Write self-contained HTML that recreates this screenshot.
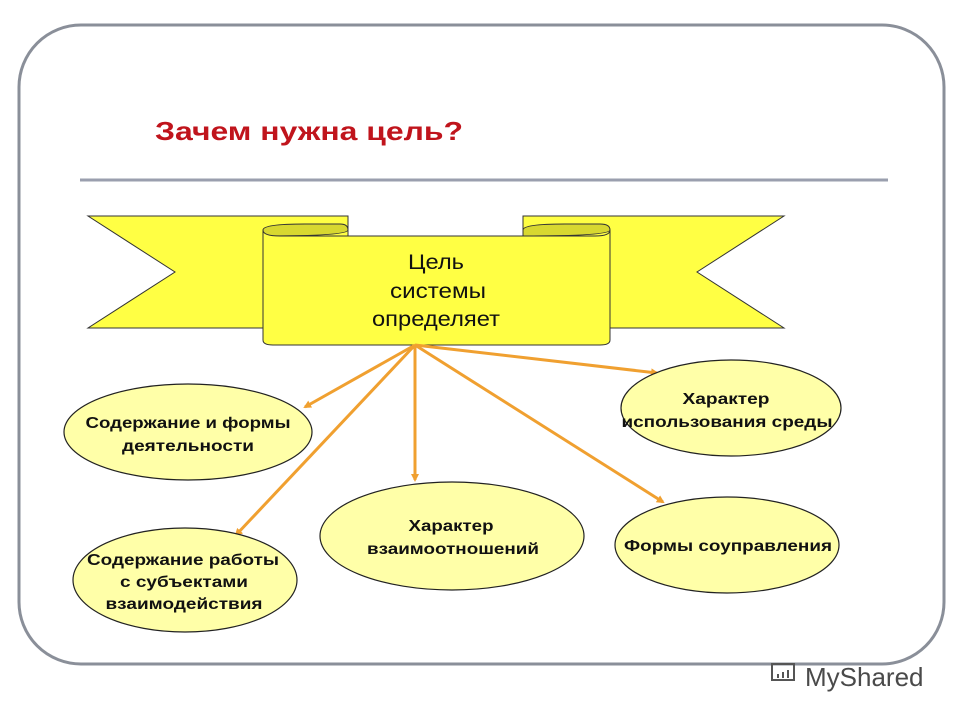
<!DOCTYPE html>
<html><head><meta charset="utf-8"><style>body{margin:0;background:#fff}svg{display:block}</style></head><body>
<svg width="960" height="720" viewBox="0 0 960 720" xmlns="http://www.w3.org/2000/svg" font-family="Liberation Sans, sans-serif">
<defs><marker id="a" markerWidth="8" markerHeight="8" refX="6" refY="4" orient="auto" markerUnits="userSpaceOnUse"><path d="M0,0 L8,4 L0,8 z" fill="#f0a030"/></marker></defs>
<rect x="19" y="25" width="925" height="639" rx="62" fill="#fff" stroke="#8a8f99" stroke-width="3"/>
<text x="155" y="140" font-size="26" font-weight="bold" fill="#c0141c" textLength="308" lengthAdjust="spacingAndGlyphs">Зачем нужна цель?</text>
<line x1="80" y1="180" x2="888" y2="180" stroke="#9a9fae" stroke-width="3"/>
<polygon points="88,216 348,216 348,328 88,328 175,272" fill="#ffff44" stroke="#333" stroke-width="1"/>
<polygon points="523,216 784,216 697,272 784,328 523,328" fill="#ffff44" stroke="#333" stroke-width="1"/>
<path d="M263,230 Q263,224 305,224 L340,224 Q348,224 348,230 Q348,236 263,236 Z" fill="#d8d830" stroke="#333"/>
<path d="M523,230 Q523,224 565,224 L600,224 Q610,224 610,230 Q610,236 523,236 Z" fill="#d8d830" stroke="#333"/>
<path d="M263,230 Q263,236 280,236 L595,236 Q610,236 610,230 L610,340 Q610,345 600,345 L273,345 Q263,345 263,340 Z" fill="#ffff44" stroke="#333"/>
<g font-size="21" fill="#111" text-anchor="middle"><text x="436" y="269" textLength="56" lengthAdjust="spacingAndGlyphs">Цель</text><text x="438" y="298" textLength="96" lengthAdjust="spacingAndGlyphs">системы</text><text x="436" y="326" textLength="128" lengthAdjust="spacingAndGlyphs">определяет</text></g>
<g stroke="#f0a030" stroke-width="3" marker-end="url(#a)">
<line x1="415" y1="345" x2="305" y2="407"/><line x1="415" y1="345" x2="236" y2="535"/><line x1="415" y1="345" x2="415" y2="480"/><line x1="415" y1="345" x2="657" y2="373"/><line x1="415" y1="345" x2="663" y2="502"/></g>
<g fill="#ffffa8" stroke="#222" stroke-width="1.2">
<ellipse cx="188" cy="432" rx="124" ry="48"/><ellipse cx="185" cy="580" rx="112" ry="52"/><ellipse cx="452" cy="536" rx="132" ry="54"/><ellipse cx="731" cy="408" rx="110" ry="48"/><ellipse cx="727" cy="545" rx="112" ry="48"/></g>
<g font-size="16" font-weight="bold" fill="#111" text-anchor="middle" lengthAdjust="spacingAndGlyphs">
<text x="188" y="428" textLength="205" lengthAdjust="spacingAndGlyphs">Содержание и формы</text><text x="188" y="451" textLength="132" lengthAdjust="spacingAndGlyphs">деятельности</text>
<text x="183" y="565" textLength="192" lengthAdjust="spacingAndGlyphs">Содержание работы</text><text x="184" y="587" textLength="128" lengthAdjust="spacingAndGlyphs">с субъектами</text><text x="184" y="609" textLength="157" lengthAdjust="spacingAndGlyphs">взаимодействия</text>
<text x="451" y="531" textLength="85" lengthAdjust="spacingAndGlyphs">Характер</text><text x="453" y="554" textLength="172" lengthAdjust="spacingAndGlyphs">взаимоотношений</text>
<text x="726" y="404" textLength="87" lengthAdjust="spacingAndGlyphs">Характер</text><text x="727" y="427" textLength="211" lengthAdjust="spacingAndGlyphs">использования среды</text>
<text x="728" y="551" textLength="208" lengthAdjust="spacingAndGlyphs">Формы соуправления</text></g>
<g fill="#555"><rect x="772" y="664" width="22" height="16" fill="none" stroke="#555" stroke-width="2"/><path d="M778,678 v-4 M783,678 v-6 M788,678 v-8" stroke="#555" stroke-width="2"/><text x="805" y="686" font-size="26" fill="#4a4a4a">MyShared</text></g>
</svg>
</body></html>
